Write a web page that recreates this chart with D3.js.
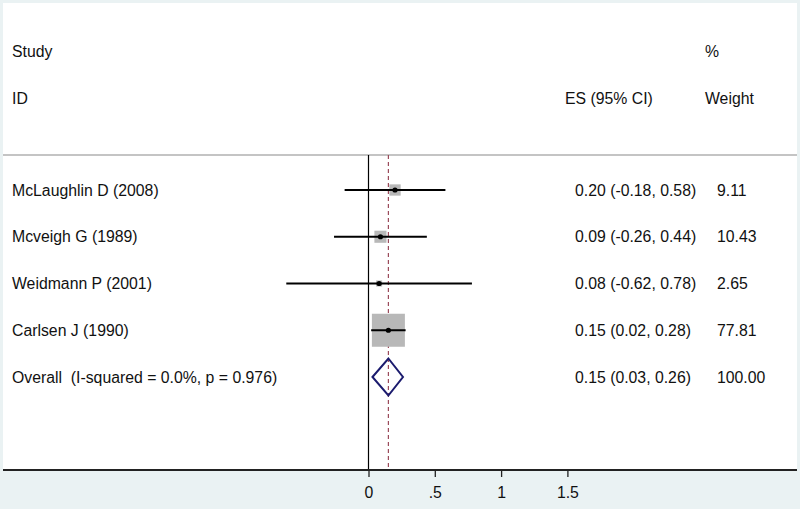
<!DOCTYPE html>
<html><head><meta charset="utf-8">
<script src="https://cdn.jsdelivr.net/npm/d3@7"></script>
<style>
html,body{margin:0;padding:0;background:#eaf2f3;}
svg text{font-family:"Liberation Sans",Arial,sans-serif;fill:#111;}
</style></head>
<body>
<svg id="c" width="800" height="509"></svg>
<script>
const studies = ["McLaughlin D (2008)", "Mcveigh G (1989)", "Weidmann P (2001)", "Carlsen J (1990)"];
const es = [0.20, 0.09, 0.08, 0.15];
const lo = [-0.18, -0.26, -0.62, 0.02];
const hi = [0.58, 0.44, 0.78, 0.28];
const weights = [9.11, 10.43, 2.65, 77.81];
const esLabels = ["0.20 (-0.18, 0.58)", "0.09 (-0.26, 0.44)", "0.08 (-0.62, 0.78)", "0.15 (0.02, 0.28)"];
const weightLabels = ["9.11", "10.43", "2.65", "77.81"];
const overallLabel = "Overall  (I-squared = 0.0%, p = 0.976)";
const overallES = 0.15, overallLo = 0.03, overallHi = 0.26;
const overallESLabel = "0.15 (0.03, 0.26)";
const overallWeightLabel = "100.00";
const tickValues = [0, 0.5, 1, 1.5];
const tickLabels = ["0", ".5", "1", "1.5"];

const svg = d3.select("#c");
const FS = "15.8px";

// panel
svg.append("rect").attr("x",3).attr("y",3).attr("width",794).attr("height",467).attr("fill","#fff");

const x = d3.scaleLinear().domain([0, 1]).range([368.5, 501.1]);
const y = d3.scalePoint().domain(d3.range(5)).range([190, 377]);
const side = d3.scaleSqrt().domain([0, 77.81]).range([0, 33]);

// header
const hdr = svg.append("g").style("font-size", FS);
hdr.append("text").attr("x",12).attr("y",57).text("Study");
hdr.append("text").attr("x",12).attr("y",104).text("ID");
hdr.append("text").attr("x",565).attr("y",104).text("ES (95% CI)");
hdr.append("text").attr("x",705).attr("y",57).text("%");
hdr.append("text").attr("x",705).attr("y",104).text("Weight");

// header separator
svg.append("line").attr("x1",3).attr("x2",797).attr("y1",155).attr("y2",155)
  .attr("stroke","#c4c4c4").attr("stroke-width",2);

// zero line
svg.append("line").attr("x1",x(0)).attr("x2",x(0)).attr("y1",155).attr("y2",470)
  .attr("stroke","#000").attr("stroke-width",1.2);

// overall dashed line
svg.append("line").attr("x1",x(overallES)).attr("x2",x(overallES)).attr("y1",155).attr("y2",470)
  .attr("stroke","#9b4a5a").attr("stroke-width",1.2).attr("stroke-dasharray","4,3");

// boxes
const rows = svg.append("g");
studies.forEach((s, i) => {
  const cy = y(i), cx = x(es[i]), sd = side(weights[i]);
  rows.append("rect").attr("x", cx - sd/2).attr("y", cy - sd/2).attr("width", sd).attr("height", sd)
    .attr("fill", "#b8b8b8");
});
studies.forEach((s, i) => {
  const cy = y(i);
  rows.append("line").attr("x1", x(lo[i])).attr("x2", x(hi[i])).attr("y1", cy).attr("y2", cy)
    .attr("stroke","#000").attr("stroke-width",2);
  rows.append("circle").attr("cx", x(es[i])).attr("cy", cy).attr("r", 2.6).attr("fill","#000");
});

// overall diamond
const oy = y(4);
svg.append("path")
  .attr("d", `M${x(overallLo)},${oy} L${x(overallES)},${oy-18.5} L${x(overallHi)},${oy} L${x(overallES)},${oy+18.5} Z`)
  .attr("fill","none").attr("stroke","#1b1b6e").attr("stroke-width",2);

// texts
const tg = svg.append("g").style("font-size", FS);
studies.forEach((s, i) => {
  const by = y(i) + 5.6;
  tg.append("text").attr("x",12).attr("y",by).text(s);
  tg.append("text").attr("x",575).attr("y",by).text(esLabels[i]);
  tg.append("text").attr("x",717).attr("y",by).text(weightLabels[i]);
});
tg.append("text").attr("x",12).attr("y",oy+5.6).style("white-space","pre").attr("xml:space","preserve").text(overallLabel);
tg.append("text").attr("x",575).attr("y",oy+5.6).text(overallESLabel);
tg.append("text").attr("x",717).attr("y",oy+5.6).text(overallWeightLabel);

// x axis
const ax = svg.append("g").attr("transform","translate(0,470)")
  .call(d3.axisBottom(x).tickValues(tickValues).tickFormat((d,i)=>tickLabels[i]).tickSize(7).tickSizeOuter(0));
ax.select(".domain").remove();
ax.selectAll(".tick line").attr("stroke","#222").attr("stroke-width",1.3);
ax.selectAll(".tick text").attr("y",27.7).attr("dy",0).style("font-size",FS)
  .style("font-family",'"Liberation Sans",Arial,sans-serif').attr("fill","#111");
svg.append("line").attr("x1",3).attr("x2",797).attr("y1",470).attr("y2",470)
  .attr("stroke","#222").attr("stroke-width",2);
</script>
</body></html>
